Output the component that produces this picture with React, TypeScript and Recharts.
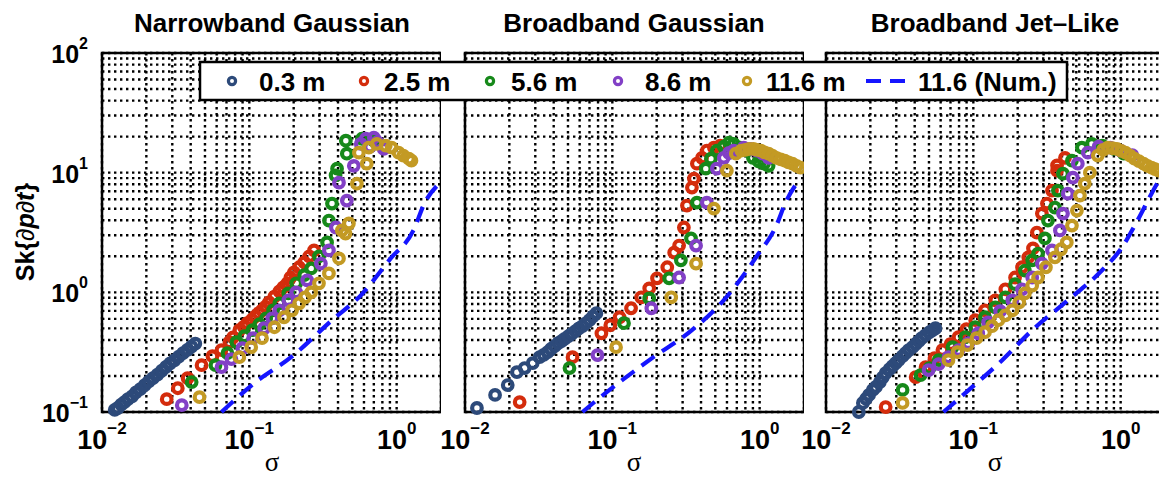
import React from 'react';
import { ComposedChart, Scatter, Line, XAxis, YAxis, CartesianGrid, ReferenceArea } from 'recharts';

type P = [number, number];

// ---- axis ticks ----
const X_TICKS = [0.01, 0.02, 0.03, 0.04, 0.05, 0.06, 0.07, 0.08, 0.09, 0.1, 0.2, 0.3, 0.4, 0.5, 0.6, 0.7, 0.8, 0.9, 1, 2];
const Y_TICKS = [0.1, 0.2, 0.3, 0.4, 0.5, 0.6, 0.7, 0.8, 0.9, 1, 2, 3, 4, 5, 6, 7, 8, 9, 10, 20, 30, 40, 50, 60, 70, 80, 90, 100];
const MAJOR_X = [0.01, 0.1, 1];
const MAJOR_Y = [0.1, 1, 10, 100];

// ---- legend / titles ----
const SERIES_LABELS = ['0.3 m', '2.5 m', '5.6 m', '8.6 m', '11.6 m'];
const NUM_LABEL = '11.6 (Num.)';
const SERIES_COLORS = ['#2d4a7a', '#d42c0c', '#16891a', '#8240c6', '#c39a24'];
const NUM_COLOR = '#1515ff';
const PANEL_TITLES = ['Narrowband Gaussian', 'Broadband Gaussian', 'Broadband Jet\u2013Like'];

// ---- Narrowband Gaussian: [sigma, Sk] ----
const NB_03: P[] = [[0.0122, 0.104], [0.0128, 0.108], [0.0135, 0.115], [0.0142, 0.121], [0.0150, 0.128], [0.0160, 0.135], [0.0170, 0.146], [0.0182, 0.155], [0.0195, 0.168], [0.0208, 0.180], [0.0222, 0.192], [0.0238, 0.205], [0.0255, 0.222], [0.0272, 0.238], [0.0290, 0.255], [0.0310, 0.270], [0.0332, 0.290], [0.0355, 0.310], [0.0380, 0.330], [0.0405, 0.352], [0.0430, 0.372]];
const NB_25: P[] = [[0.0275, 0.128], [0.0327, 0.158], [0.0381, 0.192], [0.0474, 0.246], [0.0562, 0.293], [0.0647, 0.329], [0.0733, 0.383], [0.0775, 0.42], [0.0855, 0.483], [0.0915, 0.515], [0.0969, 0.552], [0.104, 0.59], [0.110, 0.631], [0.116, 0.67], [0.122, 0.708], [0.129, 0.76], [0.136, 0.825], [0.148, 0.92], [0.160, 1.02], [0.170, 1.10], [0.181, 1.19], [0.190, 1.33], [0.201, 1.47], [0.218, 1.62], [0.236, 1.78], [0.255, 2.0], [0.275, 2.24]];
const NB_56: P[] = [[0.0406, 0.178], [0.0589, 0.246], [0.0710, 0.310], [0.0817, 0.383], [0.0925, 0.430], [0.105, 0.483], [0.117, 0.541], [0.130, 0.607], [0.145, 0.708], [0.160, 0.810], [0.184, 0.981], [0.208, 1.19], [0.236, 1.39], [0.263, 1.585], [0.297, 2.0], [0.337, 2.61], [0.347, 3.98], [0.364, 5.52], [0.385, 9.5], [0.394, 10.8], [0.459, 14.4], [0.452, 18.5], [0.581, 19.2], [0.70, 18.5]];
const NB_86: P[] = [[0.0348, 0.114], [0.0647, 0.237], [0.0756, 0.277], [0.0897, 0.341], [0.106, 0.414], [0.126, 0.501], [0.143, 0.607], [0.160, 0.708], [0.184, 0.858], [0.208, 1.0], [0.247, 1.26], [0.306, 1.74], [0.347, 2.24], [0.387, 3.48], [0.459, 5.84], [0.406, 8.25], [0.512, 11.4], [0.571, 17.4], [0.618, 19.2], [0.66, 16.5], [0.700, 19.6], [0.74, 18.0], [0.817, 15.8]];
const NB_116: P[] = [[0.0459, 0.133], [0.0855, 0.287], [0.103, 0.348], [0.122, 0.414], [0.148, 0.511], [0.172, 0.619], [0.195, 0.708], [0.218, 0.810], [0.239, 0.909], [0.263, 1.0], [0.297, 1.19], [0.347, 1.44], [0.406, 1.92], [0.425, 3.29], [0.450, 3.10], [0.474, 3.76], [0.537, 8.09], [0.627, 11.9], [0.554, 14.7], [0.647, 16.2], [0.733, 17.4], [0.843, 16.8], [0.925, 16.2], [1.03, 14.7], [1.11, 13.9], [1.21, 13.1], [1.26, 12.6]];
const NB_NUM: P[] = [[0.0647, 0.100], [0.108, 0.174], [0.192, 0.287], [0.364, 0.585], [0.571, 0.944], [0.91, 1.92], [1.30, 3.29], [1.55, 5.6], [1.92, 8.0]];

// ---- Broadband Gaussian ----
const BB_03: P[] = [[0.01205, 0.108], [0.0160, 0.139], [0.0195, 0.168], [0.0225, 0.215], [0.0254, 0.233], [0.0288, 0.256], [0.0321, 0.287], [0.0342, 0.300], [0.0364, 0.316], [0.0383, 0.336], [0.0406, 0.355], [0.0429, 0.376], [0.0452, 0.391], [0.0474, 0.408], [0.0504, 0.430], [0.0530, 0.450], [0.0562, 0.473], [0.0593, 0.500], [0.0627, 0.521], [0.0660, 0.550], [0.0700, 0.585], [0.0740, 0.630], [0.0780, 0.670]];
const BB_25: P[] = [[0.0235, 0.121], [0.0537, 0.287], [0.0843, 0.455], [0.0969, 0.531], [0.112, 0.619], [0.134, 0.736], [0.157, 0.909], [0.178, 1.08], [0.201, 1.31], [0.236, 1.62], [0.263, 2.15], [0.284, 2.46], [0.306, 3.48], [0.321, 5.31], [0.347, 7.50], [0.358, 8.91], [0.375, 11.9], [0.406, 13.3], [0.438, 15.3], [0.489, 16.2], [0.54, 16.8]];
const BB_56: P[] = [[0.0512, 0.233], [0.120, 0.552], [0.178, 0.891], [0.243, 1.31], [0.292, 1.85], [0.342, 2.82], [0.375, 5.62], [0.431, 10.8], [0.467, 13.1], [0.512, 15.3], [0.571, 16.5], [0.62, 17.8], [0.667, 17.4], [0.74, 16.2], [0.817, 15.3], [0.90, 13.3], [0.984, 12.4], [1.07, 11.9], [1.15, 11.4]];
const BB_86: P[] = [[0.0793, 0.299], [0.184, 0.736], [0.284, 1.33], [0.370, 2.46], [0.438, 5.62], [0.512, 10.8], [0.571, 13.3], [0.62, 14.6], [0.667, 15.3], [0.78, 16.2], [0.87, 15.8], [0.954, 15.3], [1.05, 14.4], [1.15, 13.3]];
const BB_116: P[] = [[0.106, 0.348], [0.251, 0.909], [0.370, 1.74], [0.489, 5.01], [0.599, 10.4], [0.689, 14.4], [0.75, 15.3], [0.80, 15.5], [0.85, 15.8], [0.91, 15.8], [0.96, 15.5], [1.02, 15.3], [1.08, 14.8], [1.15, 14.4], [1.22, 13.9], [1.30, 13.3], [1.39, 12.9], [1.48, 12.6], [1.57, 12.2], [1.67, 11.9], [1.78, 11.4], [1.89, 11.0]];
const BB_NUM: P[] = [[0.0627, 0.100], [0.0817, 0.131], [0.186, 0.282], [0.347, 0.483], [0.554, 0.825], [0.984, 2.11], [1.28, 3.48], [1.52, 5.84], [1.84, 8.58]];

// ---- Broadband Jet-Like ----
const BJ_03: P[] = [[0.0167, 0.100], [0.0178, 0.119], [0.0187, 0.129], [0.0196, 0.139], [0.0208, 0.153], [0.0218, 0.162], [0.0232, 0.178], [0.0243, 0.195], [0.0254, 0.211], [0.0270, 0.228], [0.0283, 0.242], [0.0297, 0.256], [0.0311, 0.271], [0.0331, 0.293], [0.0347, 0.310], [0.0364, 0.329], [0.0387, 0.348], [0.0406, 0.370], [0.0426, 0.391], [0.0446, 0.414], [0.0474, 0.438], [0.0505, 0.464], [0.0530, 0.483], [0.0553, 0.501]];
const BJ_25: P[] = [[0.0254, 0.110], [0.0406, 0.196], [0.0474, 0.237], [0.0545, 0.282], [0.0617, 0.329], [0.0700, 0.369], [0.0793, 0.422], [0.0897, 0.492], [0.103, 0.585], [0.120, 0.708], [0.141, 0.858], [0.165, 1.06], [0.192, 1.33], [0.214, 1.62], [0.236, 1.96], [0.254, 2.33], [0.270, 3.16], [0.292, 4.55], [0.316, 5.52], [0.342, 7.08], [0.370, 10.4], [0.370, 11.5], [0.419, 13.3]];
const BJ_56: P[] = [[0.0331, 0.153], [0.0438, 0.203], [0.0504, 0.233], [0.0581, 0.271], [0.0722, 0.348], [0.0883, 0.422], [0.103, 0.511], [0.120, 0.619], [0.141, 0.750], [0.165, 0.909], [0.192, 1.17], [0.224, 1.52], [0.251, 1.85], [0.275, 2.11], [0.306, 2.82], [0.321, 3.98], [0.358, 5.11], [0.375, 7.08], [0.406, 9.81], [0.467, 12.6], [0.545, 16.2], [0.637, 17.4], [0.75, 16.8], [0.90, 15.8], [1.05, 14.4]];
const BJ_86: P[] = [[0.0497, 0.224], [0.0581, 0.251], [0.0678, 0.287], [0.0793, 0.329], [0.0925, 0.376], [0.108, 0.455], [0.126, 0.562], [0.152, 0.695], [0.184, 0.858], [0.214, 1.06], [0.251, 1.33], [0.292, 1.74], [0.342, 2.24], [0.387, 3.29], [0.406, 4.55], [0.438, 6.68], [0.474, 9.08], [0.512, 11.9], [0.599, 14.7], [0.709, 16.5], [0.85, 16.2], [1.0, 15.3], [1.2, 14.0]];
const BJ_116: P[] = [[0.0331, 0.119], [0.0678, 0.271], [0.078, 0.316], [0.091, 0.362], [0.105, 0.414], [0.120, 0.464], [0.134, 0.521], [0.148, 0.585], [0.165, 0.643], [0.184, 0.708], [0.205, 0.825], [0.224, 0.981], [0.251, 1.14], [0.275, 1.33], [0.311, 1.62], [0.358, 1.96], [0.394, 2.29], [0.431, 2.61], [0.467, 3.61], [0.505, 4.82], [0.529, 6.43], [0.571, 8.09], [0.618, 10.0], [0.700, 13.9], [0.760, 15.5], [0.817, 16.2], [0.88, 16.0], [0.944, 15.8], [1.01, 15.2], [1.08, 14.7], [1.16, 13.9], [1.24, 13.1], [1.33, 12.5], [1.43, 11.9], [1.52, 11.4], [1.62, 11.0], [1.71, 10.7], [1.81, 10.4]];
const BJ_NUM: P[] = [[0.0627, 0.100], [0.0985, 0.162], [0.157, 0.271], [0.251, 0.483], [0.438, 0.858], [0.745, 1.52], [1.02, 2.37], [1.30, 3.98], [1.62, 6.68], [1.95, 10.0]];

const PANELS = [
  { left: 102, yW: 102, showY: true, series: [NB_03, NB_25, NB_56, NB_86, NB_116], num: NB_NUM, center: 272 },
  { left: 465, yW: 40, showY: false, series: [BB_03, BB_25, BB_56, BB_86, BB_116], num: BB_NUM, center: 634 },
  { left: 826, yW: 40, showY: false, series: [BJ_03, BJ_25, BJ_56, BJ_86, BJ_116], num: BJ_NUM, center: 995 },
];

const PLOT_W = 339;
const FONT = '"Liberation Sans", Arial, Helvetica, sans-serif';

const toPts = (a: P[]) => a.map(([x, y]) => ({ x, y }));
const expOf = (v: number) => Math.round(Math.log10(v));
const supText = (e: number) => (e < 0 ? '\u2212' + Math.abs(e) : String(e));

const XTick = (props: any) => {
  const { x, payload } = props;
  const v = payload.value;
  if (!MAJOR_X.some((m) => Math.abs(m - v) < 1e-9)) return <g />;
  return (
    <text x={x} y={449} textAnchor="middle" fontFamily={FONT} fontWeight="bold" fontSize={27} fill="#000">
      10<tspan dy={-15} fontSize={17}>{supText(expOf(v))}</tspan>
    </text>
  );
};

const YTick = (props: any) => {
  const { y, payload } = props;
  const v = payload.value;
  if (!MAJOR_Y.some((m) => Math.abs(m - v) < 1e-9)) return <g />;
  return (
    <text x={88} y={y + 10} textAnchor="end" fontFamily={FONT} fontWeight="bold" fontSize={25} fill="#000">
      10<tspan dy={-14} fontSize={16}>{supText(expOf(v))}</tspan>
    </text>
  );
};

const EmptyTick = () => <g />;

const ring = (color: string) => (props: any) => (
  <circle cx={props.cx} cy={props.cy} r={4.8} fill="none" stroke={color} strokeWidth={4.2} />
);

function Panel({ p }: { p: (typeof PANELS)[number] }) {
  return (
    <div style={{ position: 'absolute', left: p.left - p.yW, top: 0 }}>
      <ComposedChart width={p.yW + PLOT_W} height={478} margin={{ top: 53, right: 0, bottom: 0, left: 0 }}>
        <CartesianGrid stroke="#000" strokeWidth={2.4} strokeDasharray="2.4 3.6" />
        <XAxis type="number" dataKey="x" scale="log" domain={[0.01, 2]} ticks={X_TICKS} interval={0}
          tick={<XTick />} tickLine={false} axisLine={false} height={66} />
        <YAxis type="number" dataKey="y" scale="log" domain={[0.1, 100]} ticks={Y_TICKS} interval={0}
          tick={p.showY ? <YTick /> : <EmptyTick />} tickLine={false} axisLine={false} width={p.yW} />
        {p.series.map((s, i) => (
          <Scatter key={i} name={SERIES_LABELS[i]} data={toPts(s)} shape={ring(SERIES_COLORS[i])} isAnimationActive={false} />
        ))}
        <Line data={toPts(p.num)} dataKey="y" type="monotone" stroke={NUM_COLOR} strokeWidth={4.2}
          strokeDasharray="16 9" dot={false} isAnimationActive={false} />
        <ReferenceArea x1={0.01} x2={2} y1={0.1} y2={100} fill="#fff" fillOpacity={0} stroke="#000" strokeWidth={2.5} ifOverflow="visible" />
      </ComposedChart>
    </div>
  );
}

const LEGEND_MARK_X = [232, 364, 490, 618, 747];
const LEGEND_TEXT_X = [259, 384, 511, 645, 766];

export default function App() {
  return (
    <div style={{ position: 'absolute', left: 0, top: 0, width: 1159, height: 478, overflow: 'hidden', background: '#fff' }}>
      {PANELS.map((p, i) => (
        <Panel key={i} p={p} />
      ))}
      <svg width={1159} height={478} style={{ position: 'absolute', left: 0, top: 0, pointerEvents: 'none' }}>
        {PANELS.map((p, i) => (
          <text key={'t' + i} x={p.center} y={32} textAnchor="middle" fontFamily={FONT} fontWeight="bold" fontSize={26} fill="#000">
            {PANEL_TITLES[i]}
          </text>
        ))}
        {PANELS.map((p, i) => (
          <text key={'s' + i} x={p.center} y={471} textAnchor="middle" fontFamily='"Liberation Serif", "DejaVu Serif", serif' fontSize={27} fill="#000">
            σ
          </text>
        ))}
        <text x={34} y={232} transform="rotate(-90 34 232)" textAnchor="middle" fontFamily={FONT} fontWeight="bold" fontSize={25} fill="#000">
          Sk{'{'}
          <tspan fontWeight="normal">∂</tspan>
          <tspan fontStyle="italic">p</tspan>
          <tspan fontWeight="normal">∂</tspan>
          <tspan fontStyle="italic">t</tspan>
          {'}'}
        </text>
        <rect x={200} y={62} width={867} height={38} fill="#fff" stroke="#000" strokeWidth={2.5} />
        {SERIES_LABELS.map((l, i) => (
          <g key={'l' + i}>
            <circle cx={LEGEND_MARK_X[i]} cy={81} r={3.6} fill="none" stroke={SERIES_COLORS[i]} strokeWidth={3.2} />
            <text x={LEGEND_TEXT_X[i]} y={91} fontFamily={FONT} fontWeight="bold" fontSize={26} fill="#000">{l}</text>
          </g>
        ))}
        <line x1={866} y1={81} x2={913} y2={81} stroke={NUM_COLOR} strokeWidth={4} strokeDasharray="15 9" />
        <text x={918} y={91} fontFamily={FONT} fontWeight="bold" fontSize={26} fill="#000">{NUM_LABEL}</text>
      </svg>
    </div>
  );
}
